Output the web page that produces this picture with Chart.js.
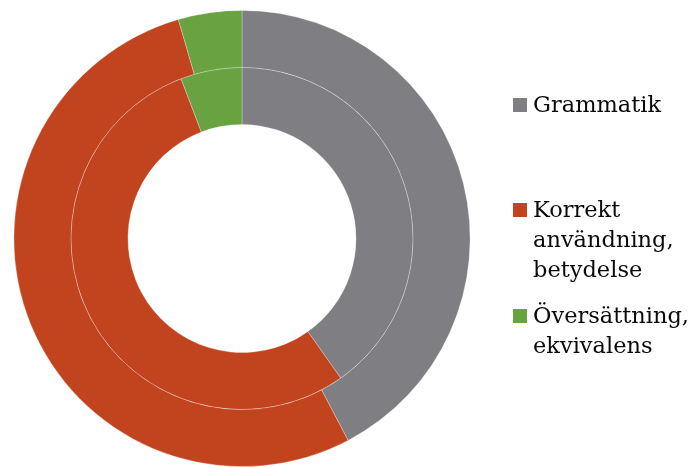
<!DOCTYPE html>
<html lang="sv">
<head>
<meta charset="UTF-8">
<title>Doughnut</title>
<style>
body { margin: 0; background: #fff; }
.wrap { position: relative; width: 694px; height: 467px; }
#chart { position: absolute; left: 0; top: 0; }
.legend { position: absolute; left: 513px; top: 0; font-family: "DejaVu Serif", Georgia, serif; font-size: 22.5px; color: #0a0a0a; }
.item { position: absolute; left: 0; display: flex; align-items: flex-start; white-space: nowrap; }
.box { width: 14px; height: 14px; margin-right: 6px; margin-top: 9px; flex: none; }
.txt { line-height: 30px; }
</style>
</head>
<body>
<div class="wrap">
  <canvas id="chart" width="694" height="467"></canvas>
  <div class="legend" id="legend"></div>
</div>
<script src="https://cdn.jsdelivr.net/npm/chart.js"></script>
<script>
const labels = ['Grammatik', 'Korrekt användning, betydelse', 'Översättning, ekvivalens'];
const legendLines = [['Grammatik'], ['Korrekt', 'användning,', 'betydelse'], ['Översättning,', 'ekvivalens']];
const colors = ['#7f7f83', '#c1441e', '#68a241'];
const outerValues = [42.3, 53.2, 4.5];
const innerValues = [40.2, 54.0, 5.8];

// legend item tops (px)
const legendTops = [89, 194, 300];

new Chart(document.getElementById('chart'), {
    type: 'doughnut',
    data: {
        labels: labels,
        datasets: [
            { data: outerValues, backgroundColor: colors, borderColor: 'rgba(255,255,255,0.35)', borderWidth: 0.8 },
            { data: innerValues, backgroundColor: colors, borderColor: 'rgba(255,255,255,0.35)', borderWidth: 0.8 }
        ]
    },
    options: {
        responsive: false,
        animation: false,
        cutout: '50%',
        layout: { padding: { left: 13, right: 223, top: 10, bottom: 0 } },
        plugins: { legend: { display: false }, tooltip: { enabled: false } }
    }
});

const leg = document.getElementById('legend');
legendLines.forEach((lines, i) => {
    const item = document.createElement('div');
    item.className = 'item';
    item.style.top = legendTops[i] + 'px';
    const box = document.createElement('div');
    box.className = 'box';
    box.style.background = colors[i];
    const txt = document.createElement('div');
    txt.className = 'txt';
    txt.innerHTML = lines.join('<br>');
    item.appendChild(box);
    item.appendChild(txt);
    leg.appendChild(item);
});
</script>
</body>
</html>
